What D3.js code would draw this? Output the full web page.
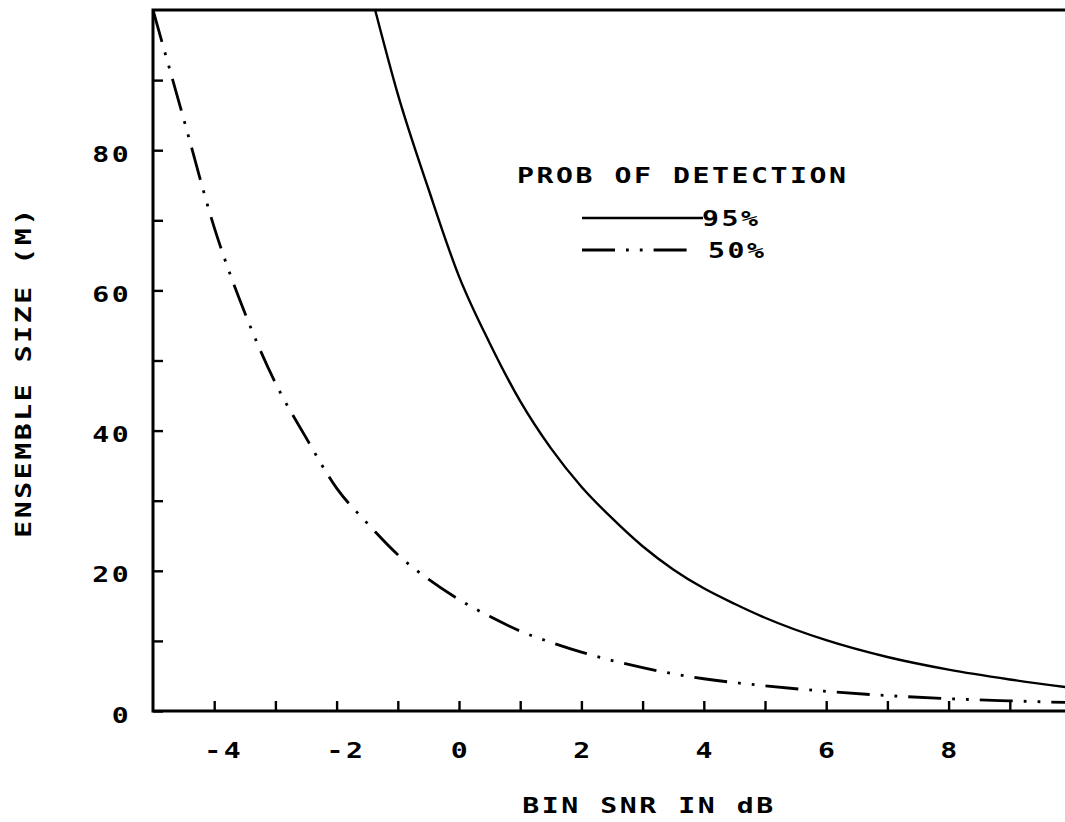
<!DOCTYPE html>
<html>
<head>
<meta charset="utf-8">
<script src="https://cdn.jsdelivr.net/npm/d3@7"></script>
<style>
  body { margin: 0; background: #fff; }
  svg { display: block; }
  text { font-family: "DejaVu Sans Mono", monospace; font-weight: bold; fill: #000; }
</style>
</head>
<body>
<svg id="chart" width="1065" height="822"></svg>
<script>
// ---- data ----
const snr95  = [-1.37, -1.0, -0.5, 0.0, 0.5, 1.0, 1.5, 2.0, 2.5, 3.0, 3.5, 4.0, 4.5, 5.0, 6.0, 7.0, 8.0, 9.0, 10.0];
const size95 = [100,   88,   74.5, 62,  52.5, 44.2, 37.5, 32, 27.5, 23.5, 20.2, 17.5, 15.3, 13.3, 10.1, 7.7, 5.9, 4.5, 3.3];

const snr50  = [-5.0, -4.5, -4.0, -3.5, -3.0, -2.5, -2.0, -1.5, -1.0, -0.5, 0.0, 0.5, 1.0, 1.5, 2.0, 2.5, 3.0, 3.5, 4.0, 5.0, 6.0, 7.0, 8.0, 9.0, 10.0];
const size50 = [100,  84.5, 69,   56.8, 46.8, 39,   31.8, 26.8, 22.3, 18.8, 15.9, 13.5, 11.4, 9.8, 8.4, 7.2, 6.2, 5.3, 4.6, 3.6, 2.8, 2.2, 1.75, 1.45, 1.2];

const xTicks      = [-4, -3, -2, -1, 0, 1, 2, 3, 4, 5, 6, 7, 8, 9];
const xTickLabels = [-4, -2, 0, 2, 4, 6, 8];
const yTicks      = [0, 10, 20, 30, 40, 50, 60, 70, 80, 90];
const yTickLabels = [0, 20, 40, 60, 80];

const xTitle = "BIN SNR IN dB";
const yTitle = "ENSEMBLE SIZE (M)";
const legendTitle = "PROB OF DETECTION";
const seriesNames = ["95%", "50%"];

// ---- layout ----
const svg = d3.select("#chart");
const pL = 153, pR = 1071, pT = 10, pB = 711;
const SX = 1.28;          // horizontal stretch of plotter-like glyphs
const FS = 22;            // font size
const LS = 2;             // letter spacing

const x = d3.scaleLinear().domain([-5, 10]).range([pL, pR]);
const y = d3.scaleLinear().domain([0, 100]).range([pB, pT]);

const dashPattern = "33,11,2.8,11,2.8,11";

// clip
svg.append("defs").append("clipPath").attr("id", "plotclip")
  .append("rect").attr("x", pL).attr("y", pT - 1).attr("width", pR - pL).attr("height", pB - pT + 2);

// ---- axes ----
const xAxis = d3.axisBottom(x)
  .tickValues(xTicks)
  .tickSize(-10)
  .tickPadding(31)
  .tickFormat(d => xTickLabels.includes(d) ? (d < 0 ? "-" + Math.abs(d) : String(d)) : "");

const gx = svg.append("g").attr("transform", `translate(0,${pB})`).call(xAxis);
gx.select(".domain").remove();
gx.selectAll(".tick line").attr("stroke", "#000").attr("stroke-width", 2.4);
gx.selectAll(".tick text")
  .attr("font-size", FS)
  .attr("letter-spacing", LS)
  .attr("font-family", "DejaVu Sans Mono, monospace")
  .attr("font-weight", "bold")
  .attr("transform", d => `translate(${d < 0 ? 9 : 1},0) scale(${SX},1)`);

const yAxis = d3.axisLeft(y)
  .tickValues(yTicks)
  .tickSize(-10)
  .tickPadding(17)
  .tickFormat(d => yTickLabels.includes(d) ? String(d) : "");

const gy = svg.append("g").attr("transform", `translate(${pL},0)`).call(yAxis);
gy.select(".domain").remove();
gy.selectAll(".tick line").attr("stroke", "#000").attr("stroke-width", 2.4);
gy.selectAll(".tick text")
  .attr("font-size", FS)
  .attr("letter-spacing", LS)
  .attr("font-family", "DejaVu Sans Mono, monospace")
  .attr("font-weight", "bold")
  .attr("dy", "0.5em")
  .attr("transform", `scale(${SX},1)`);

// frame: left, top, bottom (right edge falls outside the picture)
svg.append("path")
  .attr("d", `M${pR},${pT}H${pL}V${pB}H${pR}`)
  .attr("fill", "none").attr("stroke", "#000").attr("stroke-width", 3);

// ---- curves ----
const line = d3.line().x(d => x(d[0])).y(d => y(d[1])).curve(d3.curveMonotoneX);
const data95 = snr95.map((v, i) => [v, size95[i]]);
const data50 = snr50.map((v, i) => [v, size50[i]]);

const plot = svg.append("g").attr("clip-path", "url(#plotclip)");
plot.append("path").datum(data95).attr("d", line)
  .attr("fill", "none").attr("stroke", "#000").attr("stroke-width", 2.4);
plot.append("path").datum(data50).attr("d", line)
  .attr("fill", "none").attr("stroke", "#000").attr("stroke-width", 2.8)
  .attr("stroke-dasharray", dashPattern);

// ---- text helper ----
function label(str, tx, ty, anchor, rot) {
  svg.append("text")
    .attr("transform", `translate(${tx},${ty})` + (rot ? ` rotate(${rot})` : "") + ` scale(${SX},1)`)
    .attr("text-anchor", anchor)
    .attr("font-size", FS)
    .attr("letter-spacing", LS)
    .text(str);
}

// axis titles
label(xTitle, 649, 813, "middle", 0);
label(yTitle, 31, 372, "middle", -90);

// legend
label(legendTitle, 517, 183, "start", 0);
svg.append("line").attr("x1", 582).attr("x2", 703).attr("y1", 218).attr("y2", 218)
  .attr("stroke", "#000").attr("stroke-width", 2.4);
label(seriesNames[0], 702, 226, "start", 0);
svg.append("line").attr("x1", 582).attr("x2", 697).attr("y1", 250).attr("y2", 250)
  .attr("stroke", "#000").attr("stroke-width", 2.8).attr("stroke-dasharray", dashPattern);
label(seriesNames[1], 708, 258, "start", 0);
</script>
</body>
</html>
